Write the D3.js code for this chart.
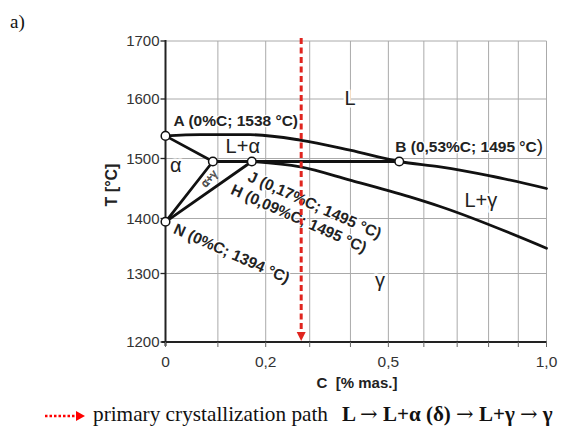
<!DOCTYPE html>
<html>
<head>
<meta charset="utf-8">
<script src="https://cdn.jsdelivr.net/npm/d3@7"></script>
<style>
  html, body { margin: 0; padding: 0; background: #fff; }
  svg { display: block; }
</style>
</head>
<body>
<svg id="chart" width="567" height="429"></svg>
<script>
// axis values
var yTicks = [1200, 1300, 1400, 1500, 1600, 1700];
var xGrid = [0, 0.1, 0.2, 0.3, 0.4, 0.5, 0.6, 0.7, 0.8, 0.9, 1.0];
var xLabelVals = [0, 0.2, 0.5, 1.0];
var xLabelText = ["0", "0,2", "0,5", "1,0"];

// characteristic points
var pointName = ["A", "H", "J", "B", "N"];
var pointC = [0, 0.09, 0.17, 0.53, 0];
var pointT = [1538, 1495, 1495, 1495, 1394];

// liquidus (A -> B -> 1%C)
var liqC = [0, 0.065, 0.166, 0.277, 0.399, 0.53, 0.648, 0.805, 1.0];
var liqT = [1538, 1540, 1540, 1531, 1514, 1495, 1486, 1471, 1450];

// solidus of gamma (J -> 1%C)
var solC = [0.17, 0.278, 0.399, 0.56, 0.648, 1.0];
var solT = [1495, 1486, 1464, 1436, 1420, 1346];

// straight segments between points
var segFrom = ["A", "H", "N", "H"];
var segTo = ["H", "N", "J", "B"];

// crystallization path composition
var pathC = 0.28;

// phase region labels
var phaseText = ["L", "L+\u03b1", "\u03b1", "L+\u03b3", "\u03b3"];
var phaseC = [0.399, 0.151, 0.019, 0.775, 0.477];
var phaseT = [1590, 1509, 1477, 1419, 1280];

var svg = d3.select("#chart");
var sans = "'Liberation Sans', Arial, Helvetica, sans-serif";
var serif = "'Liberation Serif', 'Times New Roman', serif";

var xLog = d3.scaleLog().domain([1, 2]).range([165.5, 546.5]);
function x(c) { return xLog(1 + c); }
var y = d3.scaleLinear().domain(yTicks).range([342, 273.5, 218.5, 158.5, 99, 41]);

function pt(name) {
    var i = pointName.indexOf(name);
    return [x(pointC[i]), y(pointT[i])];
}

svg.append("rect").attr("width", 567).attr("height", 429).attr("fill", "#fff");

// "a)" panel label
svg.append("text").attr("x", 10).attr("y", 28)
    .attr("font-family", serif).attr("font-size", 19).attr("fill", "#111")
    .text("a)");

// grid
var grid = svg.append("g").attr("stroke", "#aaa").attr("stroke-width", 1);
grid.selectAll(".vg").data(xGrid).enter().append("line")
    .attr("x1", function (d) { return x(d); }).attr("x2", function (d) { return x(d); })
    .attr("y1", y(1700)).attr("y2", y(1200));
grid.selectAll(".hg").data(yTicks).enter().append("line")
    .attr("x1", x(0)).attr("x2", x(1))
    .attr("y1", function (d) { return y(d); }).attr("y2", function (d) { return y(d); });

// axes
var ax = svg.append("g").attr("stroke", "#222").attr("stroke-width", 2);
ax.append("line").attr("x1", x(0)).attr("x2", x(0)).attr("y1", y(1700) - 1).attr("y2", y(1200) + 4);
ax.append("line").attr("x1", x(0) - 4).attr("x2", x(1)).attr("y1", y(1200)).attr("y2", y(1200));
ax.selectAll(".yt").data(yTicks).enter().append("line")
    .attr("stroke-width", 1.3)
    .attr("x1", x(0) - 5).attr("x2", x(0))
    .attr("y1", function (d) { return y(d); }).attr("y2", function (d) { return y(d); });
ax.selectAll(".xt").data(xGrid).enter().append("line")
    .attr("stroke-width", 1).attr("stroke", "#666")
    .attr("x1", function (d) { return x(d); }).attr("x2", function (d) { return x(d); })
    .attr("y1", y(1200)).attr("y2", y(1200) + 5);

svg.selectAll(".ytl").data(yTicks).enter().append("text")
    .attr("x", x(0) - 6).attr("y", function (d) { return y(d); }).attr("dy", "0.36em")
    .attr("text-anchor", "end").attr("font-family", sans).attr("font-size", 15).attr("fill", "#333")
    .text(function (d) { return d; });
svg.selectAll(".xtl").data(xLabelVals).enter().append("text")
    .attr("x", function (d) { return x(d); }).attr("y", 367)
    .attr("text-anchor", "middle").attr("font-family", sans).attr("font-size", 15.5).attr("fill", "#333")
    .text(function (d, i) { return xLabelText[i]; });

svg.append("text").attr("x", 357).attr("y", 388).attr("text-anchor", "middle")
    .attr("font-family", sans).attr("font-size", 15).attr("font-weight", "bold").attr("fill", "#222")
    .attr("xml:space", "preserve").text("C  [% mas.]");
svg.append("text").attr("transform", "translate(117,185) rotate(-90)").attr("text-anchor", "middle")
    .attr("font-family", sans).attr("font-size", 16).attr("font-weight", "bold").attr("fill", "#222")
    .text("T [\u00b0C]");

// labels (white halo hides grid)
function halo(sel, w) {
    return sel.attr("stroke", "#fff").attr("stroke-width", w).attr("paint-order", "stroke")
        .attr("stroke-linejoin", "round");
}
halo(svg.selectAll(".ph").data(phaseText).enter().append("text")
    .attr("x", function (d, i) { return x(phaseC[i]); })
    .attr("y", function (d, i) { return y(phaseT[i]); })
    .attr("text-anchor", "middle").attr("font-family", sans).attr("font-size", 20).attr("fill", "#222")
    .text(function (d) { return d; }), 5);

var A = pt("A"), B = pt("B"), Hp = pt("H"), J = pt("J"), N = pt("N");
function bold(xx, yy, rot, txt) {
    return halo(svg.append("text")
        .attr("transform", "translate(" + xx + "," + yy + ") rotate(" + rot + ")")
        .attr("font-family", sans).attr("font-size", 15.5).attr("font-weight", "bold").attr("fill", "#222")
        .text(txt), 2.5);
}
bold(A[0] + 8, A[1] - 10, 0, "A (0%C; 1538 \u00b0C)");
var bl = bold(B[0] - 4, B[1] - 10, 0, "B (0,53%C; 1495 \u00b0C");
bl.append("tspan").attr("font-size", 19).attr("font-weight", "normal").text(")");
bold(J[0] - 5, J[1] + 19, 24, "J (0,17%C; 1495 \u00b0C)");
bold(Hp[0] + 17, Hp[1] + 32, 24, "H (0,09%C; 1495 \u00b0C)");
bold(N[0] + 7, N[1] + 11, 24, "N (0%C; 1394 \u00b0C)");

svg.append("text")
    .attr("transform", "translate(" + x(0.088) + "," + y(1462) + ") rotate(-48)")
    .attr("text-anchor", "middle").attr("font-family", sans).attr("font-size", 11)
    .attr("fill", "#fff").attr("stroke", "#222").attr("stroke-width", 0.6)
    .text("\u03b1+\u03b3");

// phase boundaries
var curve = d3.line().x(function (d) { return x(d[0]); }).y(function (d) { return y(d[1]); })
    .curve(d3.curveMonotoneX);
var lines = svg.append("g").attr("fill", "none").attr("stroke", "#111").attr("stroke-width", 2.8)
    .attr("stroke-linecap", "round");
lines.append("path").attr("d", curve(liqC.map(function (c, i) { return [c, liqT[i]]; })));
lines.append("path").attr("d", curve(solC.map(function (c, i) { return [c, solT[i]]; })));
lines.selectAll(".seg").data(segFrom).enter().append("line")
    .attr("x1", function (d) { return pt(d)[0]; }).attr("y1", function (d) { return pt(d)[1]; })
    .attr("x2", function (d, i) { return pt(segTo[i])[0]; }).attr("y2", function (d, i) { return pt(segTo[i])[1]; });

// crystallization path
var red = "#e0251f";
svg.append("line").attr("x1", x(pathC)).attr("x2", x(pathC))
    .attr("y1", y(1700) - 3).attr("y2", y(1200) - 9)
    .attr("stroke", red).attr("stroke-width", 3).attr("stroke-dasharray", "6,3.5");
svg.append("path")
    .attr("d", "M" + (x(pathC) - 4.5) + "," + (y(1200) - 10) + "L" + (x(pathC) + 4.5) + "," + (y(1200) - 10) +
        "L" + x(pathC) + "," + (y(1200) - 1) + "Z")
    .attr("fill", red);

// points
svg.selectAll(".pt").data(pointName).enter().append("circle")
    .attr("cx", function (d, i) { return x(pointC[i]); })
    .attr("cy", function (d, i) { return y(pointT[i]); })
    .attr("r", 4.3).attr("fill", "#fff").attr("stroke", "#111").attr("stroke-width", 1.5);

// legend
var lg = svg.append("g");
lg.append("line").attr("x1", 45).attr("x2", 77).attr("y1", 416).attr("y2", 416)
    .attr("stroke", "#f00").attr("stroke-width", 2.5).attr("stroke-dasharray", "2.5,2");
lg.append("path").attr("d", "M76,411L85,416L76,421Z").attr("fill", "#f00");
lg.append("text").attr("x", 93).attr("y", 421)
    .attr("font-family", serif).attr("font-size", 21).attr("fill", "#111")
    .attr("textLength", 235).attr("lengthAdjust", "spacingAndGlyphs")
    .text("primary crystallization path");
var bt = lg.append("text").attr("x", 342).attr("y", 421)
    .attr("font-family", serif).attr("font-size", 21).attr("font-weight", "bold").attr("fill", "#111");
var legendParts = ["L ", "\u2192", " L+\u03b1 (\u03b4) ", "\u2192", " L+\u03b3 ", "\u2192", " \u03b3"];
bt.selectAll("tspan").data(legendParts).enter().append("tspan")
    .attr("xml:space", "preserve")
    .attr("font-family", function (d) { return d === "\u2192" ? "'DejaVu Serif', serif" : serif; })
    .attr("font-weight", function (d) { return d === "\u2192" ? "normal" : "bold"; })
    .text(function (d) { return d; });
</script>
</body>
</html>
